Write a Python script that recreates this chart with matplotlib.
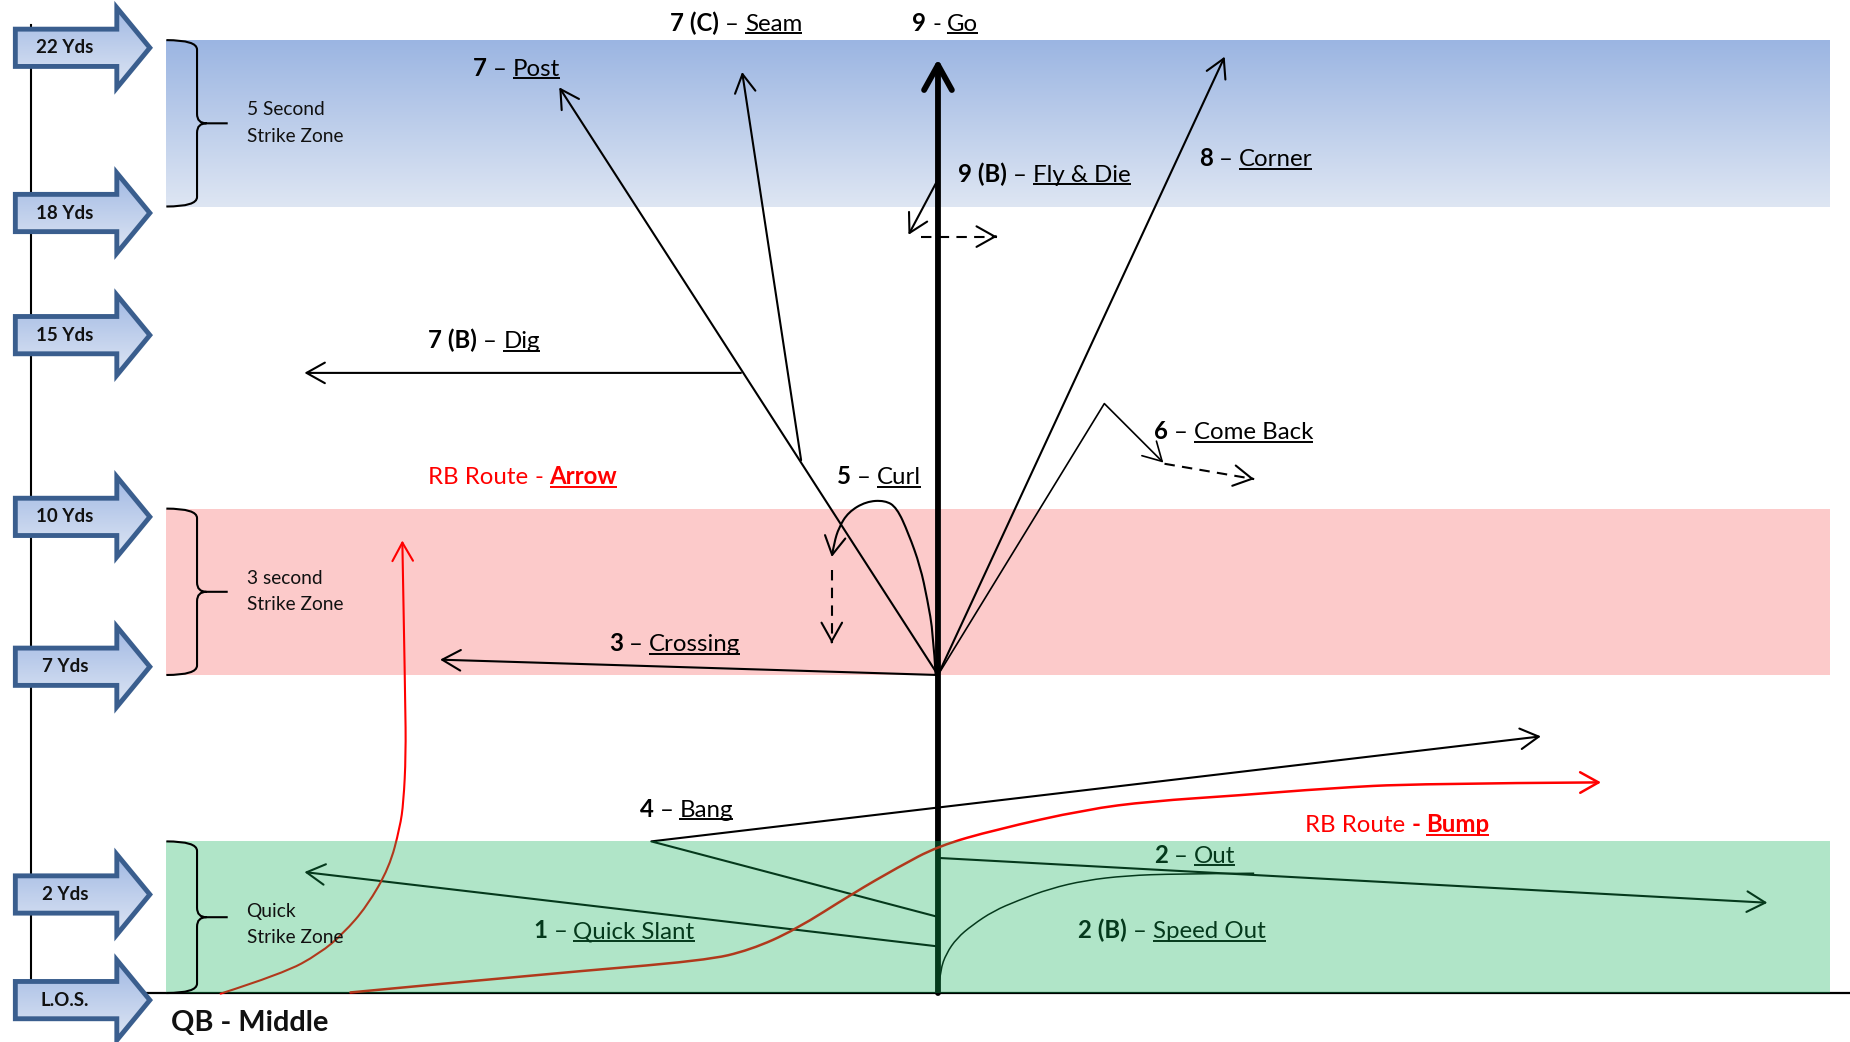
import numpy as np
import matplotlib
matplotlib.use("Agg")
import matplotlib.pyplot as plt
from matplotlib.patches import Polygon, PathPatch, FancyArrowPatch, Rectangle, ArrowStyle
from matplotlib.path import Path

plt.rcParams['font.family'] = ['Lato', 'DejaVu Sans']

# ---------------- data (canvas units 1568 x 883, y grows downward) ----------------
yard_labels = ['22 Yds', '18 Yds', '15 Yds', '10 Yds', '7 Yds', '2 Yds', 'L.O.S.']
yard_y = [40.5, 180.5, 284, 438, 565, 758, 847.5]

zone_top = [34, 431, 713]
zone_bottom = [175, 572, 841.5]
zone_lines = [('5 Second', 'Strike Zone'), ('3 second', 'Strike Zone'), ('Quick', 'Strike Zone')]
zone_text_y = [97.5, 494.5, 777]

los_y = 841.5

go_route = [(795, 841.5), (795, 50)]
quick_slant = [(795, 802), (258, 739)]
out_route = [(795, 727), (1498, 765)]
speed_out = [(795, 840), (797, 822), (802, 808), (811, 795), (824, 784), (842, 772),
             (863, 763), (890, 753), (920, 746), (955, 742), (996, 740.5), (1063, 740)]
bang = [(795, 777), (552, 713), (1306, 624)]
crossing = [(795, 572), (373, 559)]
post = [(795, 572), (474, 74)]
dig = [(628, 316), (258, 316)]
seam = [(679, 390), (629, 61)]
curl = [(793, 572), (791, 537), (786, 508), (780, 480), (770, 452), (760, 430), (750, 424),
        (734, 425), (719, 434), (711, 447), (707, 460), (705, 472)]
curl_drop = [(705, 483), (705, 545)]
corner = [(795, 572), (1038, 48)]
come_back = [(795, 572), (936, 342), (986, 392)]
come_back_drift = [(987, 393), (1063, 406)]
fly_die = [(795, 152), (770, 199)]
fly_die_drift = [(781, 200.5), (845, 200.5)]
rb_arrow = [(187, 842), (240, 825), (271, 808), (291, 791), (311, 768), (330, 735),
            (339, 701), (342, 680), (344, 640), (343.5, 593), (341, 458)]
rb_bump = [(297, 841), (466, 825), (598, 814), (636, 805), (674, 788), (723, 757),
           (761, 735), (795, 717), (844, 703), (920, 686), (975, 679), (1050, 674),
           (1126, 668), (1202, 664), (1357, 663)]

# label: (x, baseline y, pieces, colour); piece styles: r=regular, b=bold, u=underline
route_labels = [
    (568, 26, [('7 (C)', 'b'), ('–', 'r'), ('Seam', 'u')], 'black'),
    (773, 26, [('9', 'b'), ('-', 'r'), ('Go', 'u')], 'black'),
    (401, 64, [('7', 'b'), ('–', 'r'), ('Post', 'u')], 'black'),
    (812, 154, [('9 (B)', 'b'), ('–', 'r'), ('Fly & Die', 'u')], 'black'),
    (1016, 141, [('8', 'b'), ('–', 'r'), ('Corner', 'u')], 'black'),
    (363, 295, [('7 (B)', 'b'), ('–', 'r'), ('Dig', 'u')], 'black'),
    (978, 372, [('6', 'b'), ('–', 'r'), ('Come Back', 'u')], 'black'),
    (363, 410, [('RB Route', 'r'), ('-', 'r'), ('Arrow', 'bu')], '#FF0000'),
    (709, 410, [('5', 'b'), ('–', 'r'), ('Curl', 'u')], 'black'),
    (516, 552, [('3', 'b'), ('–', 'r'), ('Crossing', 'u')], 'black'),
    (542, 692, [('4', 'b'), ('–', 'r'), ('Bang', 'u')], 'black'),
    (1106, 705, [('RB Route', 'r'), ('-', 'b'), ('Bump', 'bu')], '#FF0000'),
    (978, 731, [('2', 'b'), ('–', 'r'), ('Out', 'u')], 'black'),
    (452, 795, [('1', 'b'), ('–', 'r'), ('Quick Slant', 'u')], 'black'),
    (914, 795, [('2 (B)', 'b'), ('–', 'r'), ('Speed Out', 'u')], 'black'),
]

qb_text = 'QB - Middle'

# ---------------- figure ----------------
W, H = 1568, 883
fig = plt.figure(figsize=(18.5, 10.42), dpi=100)
ax = fig.add_axes([0, 0, 1, 1])
ax.set_xlim(0, W)
ax.set_ylim(H, 0)
ax.axis('off')

field_left, field_right = 141, 1551

def vgrad(c_top, c_bot, n=256):
    c_top = np.array(c_top) / 255.0
    c_bot = np.array(c_bot) / 255.0
    t = np.linspace(0, 1, n)[:, None, None]
    return c_top[None, None, :] * (1 - t) + c_bot[None, None, :] * t

# blue zone (gradient)
ax.imshow(vgrad((155, 181, 226), (222, 230, 243)),
          extent=(field_left, field_right, zone_bottom[0], zone_top[0]),
          aspect='auto', origin='upper', zorder=0, interpolation='bilinear')
# pink zone
ax.add_patch(Rectangle((field_left, zone_top[1]), field_right - field_left,
                       zone_bottom[1] - zone_top[1], facecolor='#FCCACA',
                       edgecolor='none', zorder=0))
# green zone: translucent, drawn over routes
ax.add_patch(Rectangle((field_left, zone_top[2]), field_right - field_left,
                       zone_bottom[2] - zone_top[2], facecolor=(16/255, 176/255, 88/255),
                       alpha=0.33, edgecolor='none', zorder=3))
ax.set_xlim(0, W)
ax.set_ylim(H, 0)

# left yard line and line of scrimmage
ax.plot([26, 26], [21, 833], color='black', lw=1.5, zorder=1)
ax.plot([124.6, W], [los_y, los_y], color='black', lw=1.6, zorder=2)

# ---------------- helpers ----------------
def head_style(hl=0.66, hw=0.37):
    return ArrowStyle('->', head_length=hl, head_width=hw)

def straight_arrow(pts, lw=1.5, color='black', hl=0.66, hw=0.37, z=2):
    a = FancyArrowPatch(pts[0], pts[-1], arrowstyle=head_style(hl, hw), mutation_scale=20,
                        lw=lw, color=color, shrinkA=0, shrinkB=0, zorder=z)
    ax.add_patch(a)

def poly_arrow(pts, lw=1.5, color='black', z=2):
    p = Path(pts, [Path.MOVETO] + [Path.LINETO] * (len(pts) - 1))
    ax.add_patch(FancyArrowPatch(path=p, arrowstyle=head_style(), mutation_scale=20,
                                 lw=lw, color=color, zorder=z))

def smooth_path(pts):
    pts = np.asarray(pts, float)
    verts = [pts[0]]
    codes = [Path.MOVETO]
    for i in range(1, len(pts) - 2):
        verts += [pts[i], (pts[i] + pts[i + 1]) / 2]
        codes += [Path.CURVE3, Path.CURVE3]
    verts += [pts[-2], pts[-1]]
    codes += [Path.CURVE3, Path.CURVE3]
    return Path(verts, codes)

def curve_arrow(pts, lw=1.5, color='black', z=2):
    ax.add_patch(FancyArrowPatch(path=smooth_path(pts), arrowstyle=head_style(),
                                 mutation_scale=20, lw=lw, color=color, zorder=z))

def dashed_arrow(pts, lw=1.5, color='black', z=2):
    (x0, y0), (x1, y1) = pts
    ax.plot([x0, x1], [y0, y1], color=color, lw=lw, dashes=(5, 3.5), zorder=z)
    d = np.array([x1 - x0, y1 - y0], float)
    d /= np.hypot(*d)
    straight_arrow([(x1 - d[0], y1 - d[1]), (x1, y1)], lw=lw, color=color, z=z)

# ---------------- routes ----------------
straight_arrow(go_route, lw=4.2, hl=0.9, hw=0.5)
straight_arrow(quick_slant)
straight_arrow(out_route)
ax.add_patch(PathPatch(smooth_path(speed_out), fill=False, lw=1.1, edgecolor='black', zorder=2))
poly_arrow(bang)
straight_arrow(crossing)
straight_arrow(post)
straight_arrow(dig)
straight_arrow(seam)
curve_arrow(curl)
dashed_arrow(curl_drop)
straight_arrow(corner)
poly_arrow(come_back, lw=1.2)
dashed_arrow(come_back_drift)
straight_arrow(fly_die)
dashed_arrow(fly_die_drift)
curve_arrow(rb_arrow, lw=1.5, color='#FF0000')
curve_arrow(rb_bump, lw=1.8, color='#FF0000')

# ---------------- zone brackets and texts ----------------
def brace(top, bottom, x0=141, x1=167, x2=193, r=8):
    mid = (top + bottom) / 2
    verts = [(x0, top), (x1, top), (x1, top + r), (x1, mid - r), (x1, mid), (x1 + r, mid),
             (x2, mid),
             (x1 + r, mid), (x1, mid), (x1, mid + r), (x1, bottom - r), (x1, bottom),
             (x0, bottom)]
    codes = [Path.MOVETO, Path.CURVE3, Path.CURVE3, Path.LINETO, Path.CURVE3, Path.CURVE3,
             Path.LINETO,
             Path.MOVETO, Path.CURVE3, Path.CURVE3, Path.LINETO, Path.CURVE3, Path.CURVE3]
    ax.add_patch(PathPatch(Path(verts, codes), fill=False, lw=1.5, edgecolor='black', zorder=4))

for top, bot, lines, ty in zip(zone_top, zone_bottom, zone_lines, zone_text_y):
    brace(top, bot)
    for k, ln in enumerate(lines):
        ax.text(209, ty + k * 22.5, ln, fontsize=13.8, color='#111111', va='baseline',
                ha='left', zorder=4)

# ---------------- yard marker arrows ----------------
arrow_grad = vgrad((160, 184, 227), (222, 230, 244))
for lab, yc in zip(yard_labels, yard_y):
    verts = [(13, yc - 15.8), (99, yc - 15.8), (99, yc - 34), (127, yc),
             (99, yc + 34), (99, yc + 15.8), (13, yc + 15.8)]
    clip = Polygon(verts, closed=True, facecolor='none', edgecolor='none',
                   transform=ax.transData)
    ax.add_patch(clip)
    im = ax.imshow(arrow_grad, extent=(13, 127, yc + 34, yc - 34), aspect='auto',
                   origin='upper', zorder=4, interpolation='bilinear')
    im.set_clip_path(clip)
    ax.add_patch(Polygon(verts, closed=True, facecolor='none', edgecolor='#3A5E8E',
                         lw=3.5, joinstyle='miter', zorder=4.1))
    ax.text(55, yc, lab, ha='center', va='center', fontsize=13.5, fontweight='bold',
            color='#111111', zorder=4.2)

ax.set_xlim(0, W)
ax.set_ylim(H, 0)

ax.text(145, 874, qb_text, fontsize=20.8, fontweight='bold', color='#111111',
        va='baseline', ha='left', zorder=4)

# ---------------- route labels with underlines ----------------
renderer = fig.canvas.get_renderer()
inv = ax.transData.inverted()

def text_width(s, size, weight):
    t = ax.text(0, 0, s, fontsize=size, fontweight=weight)
    bb = t.get_window_extent(renderer)
    t.remove()
    return bb.width

LABEL_SIZE = 17.3
space_px = text_width('a a', LABEL_SIZE, 'normal') - text_width('aa', LABEL_SIZE, 'normal')
space = space_px * W / fig.bbox.width

for x, y, pieces, color in route_labels:
    cur = x
    for s, style in pieces:
        weight = 'bold' if 'b' in style else 'normal'
        t = ax.text(cur, y, s, fontsize=LABEL_SIZE, fontweight=weight, color=color,
                    va='baseline', ha='left', zorder=2)
        bb = t.get_window_extent(renderer)
        xa = inv.transform((bb.x0, bb.y0))[0]
        xb = inv.transform((bb.x1, bb.y0))[0]
        if 'u' in style:
            ax.plot([xa, xb], [y + 2.3, y + 2.3], color=color, lw=1.4,
                    solid_capstyle='butt', zorder=2)
        cur = xb + space

fig.savefig('out.png', dpi=100)
